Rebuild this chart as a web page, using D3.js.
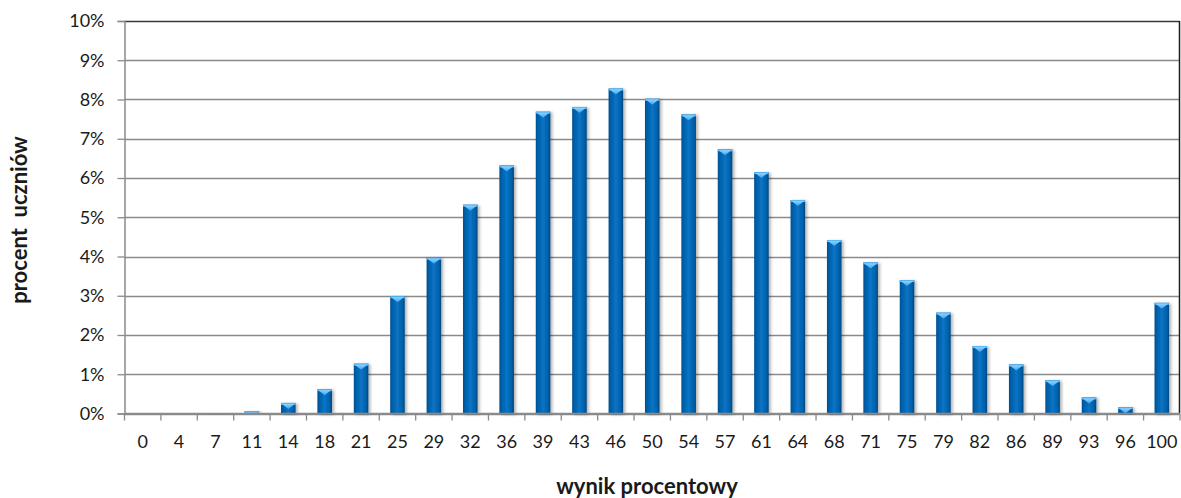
<!DOCTYPE html>
<html>
<head>
<meta charset="utf-8">
<script src="https://cdn.jsdelivr.net/npm/d3@7/dist/d3.min.js"></script>
<style>
  html, body { margin: 0; padding: 0; background: #fff; }
  svg { display: block; }
  text { font-family: Lato, "Open Sans", sans-serif; fill: #1a1a1a; }
</style>
</head>
<body>
<svg id="chart" width="1181" height="498"></svg>
<script>
// Score buckets (percent result) and share of students in each bucket (%)
const categories = ["0","4","7","11","14","18","21","25","29","32","36","39","43","46","50",
                    "54","57","61","64","68","71","75","79","82","86","89","93","96","100"];
const values = [0, 0, 0.01, 0.06, 0.27, 0.62, 1.27, 2.99, 3.97, 5.32, 6.32, 7.69, 7.81, 8.28, 8.02,
                7.62, 6.73, 6.15, 5.44, 4.42, 3.85, 3.40, 2.57, 1.72, 1.25, 0.85, 0.41, 0.16, 2.82];
const yTicks = [0, 1, 2, 3, 4, 5, 6, 7, 8, 9, 10];
const yTitle = "procent  uczniów";
const xTitle = "wynik procentowy";

const svg = d3.select("#chart");
const plotLeft = 124.5, plotRight = 1180, plotTop = 21, plotBottom = 413.5;

const x = d3.scaleBand().domain(categories).range([plotLeft, plotRight])
  .paddingInner(0.6).paddingOuter(0.3);
const y = d3.scaleLinear().domain([0, 10]).range([plotBottom, plotTop]);
const step = x.step();

const defs = svg.append("defs");
const g1 = defs.append("linearGradient").attr("id", "barFill").attr("x1", 0).attr("x2", 1).attr("y1", 0).attr("y2", 0);
[[0, "#004f8f"], [0.18, "#0062ad"], [0.5, "#0a73c4"], [0.82, "#0062ad"], [1, "#00467f"]]
  .forEach(([o, c]) => g1.append("stop").attr("offset", o).attr("stop-color", c));
const g2 = defs.append("linearGradient").attr("id", "capFill").attr("x1", 0).attr("x2", 0).attr("y1", 0).attr("y2", 1);
[[0, "#8fd3ff"], [1, "#3aa2ee"]]
  .forEach(([o, c]) => g2.append("stop").attr("offset", o).attr("stop-color", c));
const sh = defs.append("filter").attr("id", "shadow").attr("x", "-50%").attr("y", "-10%").attr("width", "200%").attr("height", "130%");
sh.append("feDropShadow").attr("dx", 2).attr("dy", 1).attr("stdDeviation", 1.6)
  .attr("flood-color", "#000").attr("flood-opacity", 0.3);

// horizontal gridlines
svg.append("g").selectAll("line").data(yTicks).join("line")
  .attr("x1", plotLeft).attr("x2", plotRight)
  .attr("y1", d => Math.round(y(d)) + 0.5).attr("y2", d => Math.round(y(d)) + 0.5)
  .attr("stroke", d => d === 10 ? "#3a3a3a" : "#8a8a8a").attr("stroke-width", 1.3);

// right border of plot area
svg.append("line").attr("x1", plotRight - 0.5).attr("x2", plotRight - 0.5)
  .attr("y1", y(10)).attr("y2", y(0)).attr("stroke", "#1a1a1a").attr("stroke-width", 1.5);

// y axis
const yAxis = d3.axisLeft(y).tickValues(yTicks).tickFormat(d => d + "%").tickSize(7).tickPadding(13);
const ya = svg.append("g").attr("transform", `translate(${plotLeft},0)`).call(yAxis);
ya.select(".domain").attr("stroke", "#8a8a8a").attr("stroke-width", 1.5);
ya.selectAll(".tick line").attr("stroke", "#8a8a8a").attr("stroke-width", 1.3);
ya.selectAll("text").style("font-size", "18px").style("font-family", "Lato").attr("fill", "#1a1a1a");

// bars
const bars = svg.append("g");
categories.forEach((c, i) => {
  const v = values[i];
  if (v <= 0) return;
  const x0 = x(c), w = x.bandwidth(), y0 = y(v), h = y(0) - y(v);
  const bg = bars.append("g").attr("filter", "url(#shadow)");
  bg.append("rect").attr("x", x0).attr("y", y0).attr("width", w).attr("height", h).attr("fill", "url(#barFill)");
  const ch = Math.min(6, h);
  bg.append("rect").attr("x", x0).attr("y", y0).attr("width", w).attr("height", Math.min(2, h)).attr("fill", "#5cb8f7");
  bg.append("path")
    .attr("d", `M${x0 + 1},${y0 + 1}L${x0 + w - 1},${y0 + 1}L${x0 + w / 2},${y0 + ch}Z`)
    .attr("fill", "url(#capFill)");
});

// x axis with ticks at category boundaries
const xa = svg.append("g");
xa.append("line").attr("x1", plotLeft).attr("x2", plotRight).attr("y1", plotBottom).attr("y2", plotBottom)
  .attr("stroke", "#8a8a8a").attr("stroke-width", 1.5);
const bounds = d3.range(categories.length + 1).map(k => plotLeft + k * step);
xa.selectAll("line.tk").data(bounds).join("line").attr("class", "tk")
  .attr("x1", d => d).attr("x2", d => d).attr("y1", plotBottom).attr("y2", plotBottom + 7)
  .attr("stroke", "#8a8a8a").attr("stroke-width", 1.3);
xa.selectAll("text").data(categories).join("text")
  .attr("x", d => x(d) + x.bandwidth() / 2).attr("y", 448)
  .attr("text-anchor", "middle").style("font-size", "18px").text(d => d);

// axis titles
svg.append("text").attr("transform", `translate(27,220) rotate(-90)`)
  .attr("text-anchor", "middle").style("font-size", "22px").style("font-weight", "bold")
  .style("white-space", "pre").attr("xml:space", "preserve").text(yTitle);
svg.append("text").attr("x", 647).attr("y", 494).attr("text-anchor", "middle")
  .style("font-size", "22px").style("font-weight", "bold").text(xTitle);
</script>
</body>
</html>
